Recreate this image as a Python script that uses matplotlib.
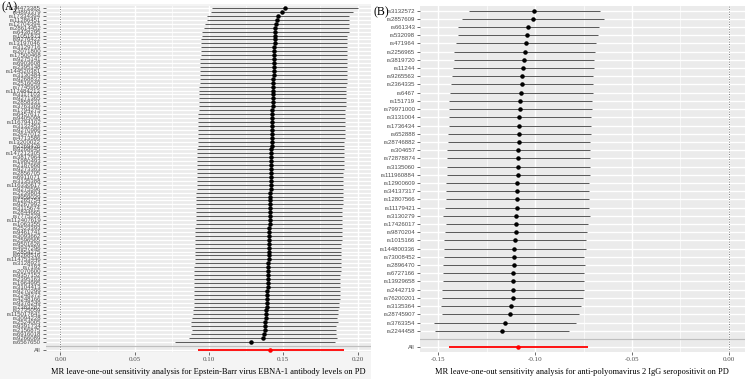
import numpy as np
import matplotlib.pyplot as plt
from matplotlib.patches import Rectangle

# ---- panel A data (Epstein-Barr virus EBNA-1), top row first ----
snp_a = ["rs74473385", "rs4893379", "rs17334394", "rs11286451", "rs12704394", "rs28614452", "rs6438295",
         "rs1051873", "rs9276422", "rs13197046", "rs3129716", "rs2071800", "rs17500468", "rs9275141",
         "rs6903608", "rs2395148", "rs144520381", "rs3130484", "rs9268832", "rs2516049", "rs7745906",
         "rs117484213", "rs3117103", "rs9271365", "rs2858331", "rs3763309", "rs1794275", "rs6457617",
         "rs9405098", "rs116794102", "rs3132453", "rs9270986", "rs2647012", "rs4713586", "rs13200022",
         "rs2269426", "rs9268645", "rs147212305", "rs3817964", "rs1980493", "rs2187668", "rs9273363",
         "rs2856705", "rs6911071", "rs3135388", "rs116330617", "rs9275596", "rs2239804", "rs4959039",
         "rs1265754", "rs9267992", "rs3115674", "rs2844665", "rs7775228", "rs112407619", "rs1063355",
         "rs2523393", "rs9461741", "rs3093662", "rs2596565", "rs9501626", "rs4947296", "rs2854275",
         "rs9268516", "rs114753446", "rs3128921", "rs7192", "rs2070600", "rs9357152", "rs2395163",
         "rs1964995", "rs3104413", "rs9270299", "rs2248372", "rs4248166", "rs9378249", "rs7383287",
         "rs2735059", "rs115017641", "rs3094228", "rs2524005", "rs9391734", "rs2156875", "rs6916018",
         "rs9266089", "rs6567650"]
b_a = [0.1510, 0.1489, 0.1464, 0.1460, 0.1453, 0.1446, 0.1445,
       0.1443, 0.1442, 0.1441, 0.1440, 0.1439, 0.1439, 0.1438, 0.1437, 0.1436, 0.1436, 0.1435, 0.1434,
       0.1433, 0.1432, 0.1431, 0.1431, 0.1430, 0.1429, 0.1428, 0.1427, 0.1427, 0.1426, 0.1425,
       0.1424, 0.1424, 0.1423, 0.1422, 0.1422, 0.1421, 0.1420, 0.1420, 0.1419, 0.1418, 0.1418, 0.1417,
       0.1416, 0.1416, 0.1415, 0.1414, 0.1414, 0.1413, 0.1412, 0.1412, 0.1411, 0.1410, 0.1410, 0.1409,
       0.1408, 0.1408, 0.1407, 0.1406, 0.1405, 0.1405, 0.1404, 0.1403, 0.1402, 0.1402, 0.1401, 0.1400,
       0.1399, 0.1398, 0.1397, 0.1396, 0.1395, 0.1394, 0.1393, 0.1392, 0.1391,
       0.1390, 0.1389, 0.1386, 0.1385, 0.1381, 0.1379, 0.1376, 0.1374, 0.1372, 0.1366, 0.1280]
lo_a = [0.1018, 0.1011, 0.0989, 0.0984, 0.0975, 0.0964, 0.0955,
        0.0951, 0.0948, 0.0946, 0.0944, 0.0944, 0.0943, 0.0941, 0.0941, 0.0940, 0.0939, 0.0938, 0.0937,
        0.0936, 0.0935, 0.0935, 0.0934, 0.0933, 0.0932, 0.0931, 0.0930, 0.0929, 0.0928, 0.0927,
        0.0926, 0.0926, 0.0925, 0.0924, 0.0924, 0.0923, 0.0922, 0.0922, 0.0921, 0.0920, 0.0920, 0.0919,
        0.0918, 0.0918, 0.0917, 0.0916, 0.0916, 0.0915, 0.0914, 0.0914, 0.0913, 0.0912, 0.0912, 0.0911,
        0.0910, 0.0910, 0.0909, 0.0908, 0.0907, 0.0907, 0.0906, 0.0905, 0.0905, 0.0904, 0.0903, 0.0903,
        0.0902, 0.0901, 0.0901, 0.0900, 0.0900, 0.0899, 0.0899, 0.0898, 0.0898,
        0.0897, 0.0897, 0.0893, 0.0889, 0.0887, 0.0879, 0.0882, 0.0885, 0.0882, 0.0868, 0.0768]
hi_a = [0.2003, 0.1969, 0.1942, 0.1942, 0.1940, 0.1940, 0.1944,
        0.1928, 0.1928, 0.1927, 0.1928, 0.1927, 0.1928, 0.1930, 0.1928, 0.1927, 0.1928, 0.1930, 0.1929,
        0.1926, 0.1925, 0.1925, 0.1923, 0.1921, 0.1921, 0.1920, 0.1917, 0.1918, 0.1916, 0.1915,
        0.1914, 0.1913, 0.1913, 0.1912, 0.1911, 0.1910, 0.1910, 0.1909, 0.1908, 0.1907, 0.1907, 0.1906,
        0.1905, 0.1904, 0.1904, 0.1903, 0.1902, 0.1901, 0.1900, 0.1900, 0.1899, 0.1898, 0.1897, 0.1897,
        0.1896, 0.1895, 0.1894, 0.1894, 0.1893, 0.1892, 0.1891, 0.1891, 0.1890, 0.1889, 0.1888, 0.1888,
        0.1887, 0.1886, 0.1885, 0.1884, 0.1884, 0.1883, 0.1882, 0.1881, 0.1880,
        0.1874, 0.1874, 0.1870, 0.1867, 0.1863, 0.1865, 0.1856, 0.1854, 0.1856, 0.1863, 0.1851]
all_a = (0.1412, 0.0923, 0.1906)  # b, lo, hi

# ---- panel B data (anti-polyomavirus 2 IgG), top row first ----
snp_b = ["rs3132572", "rs2857609", "rs661343", "rs532098", "rs471964", "rs2256965", "rs3819720",
         "rs11244", "rs9265563", "rs2364335", "rs6467", "rs151719", "rs79971000", "rs3131004",
         "rs1736434", "rs652888", "rs28746882", "rs304657", "rs72878874", "rs3135060", "rs111960884",
         "rs12900609", "rs34137317", "rs12807566", "rs11179421", "rs3130279", "rs17426017", "rs9870204",
         "rs1015166", "rs144800336", "rs73008452", "rs2896470", "rs6727166", "rs13929658", "rs2442719",
         "rs76200201", "rs3135364", "rs28745907", "rs3763354", "rs2244458"]
b_b = [-0.1004, -0.1012, -0.1035, -0.1040, -0.1048, -0.1055, -0.1060, -0.1062, -0.1066, -0.1069,
       -0.1071, -0.1076, -0.1078, -0.1081, -0.1081, -0.1083, -0.1086, -0.1088, -0.1088, -0.1090,
       -0.1090, -0.1092, -0.1093, -0.1093, -0.1095, -0.1097, -0.1097, -0.1098, -0.1104, -0.1107,
       -0.1109, -0.1109, -0.1112, -0.1114, -0.1114, -0.1117, -0.1126, -0.1128, -0.1154, -0.1171]
lo_b = [-0.1341, -0.1376, -0.1397, -0.1397, -0.1408, -0.1419, -0.1419, -0.1424, -0.1429, -0.1434,
        -0.1440, -0.1443, -0.1445, -0.1445, -0.1446, -0.1450, -0.1452, -0.1455, -0.1455, -0.1457,
        -0.1457, -0.1459, -0.1460, -0.1460, -0.1464, -0.1476, -0.1462, -0.1466, -0.1471, -0.1472,
        -0.1471, -0.1478, -0.1476, -0.1478, -0.1481, -0.1483, -0.1486, -0.1483, -0.1523, -0.1519]
hi_b = [-0.0664, -0.0645, -0.0669, -0.0674, -0.0686, -0.0690, -0.0697, -0.0697, -0.0702, -0.0702,
        -0.0702, -0.0707, -0.0707, -0.0712, -0.0712, -0.0714, -0.0716, -0.0718, -0.0718, -0.0719,
        -0.0719, -0.0721, -0.0721, -0.0723, -0.0723, -0.0716, -0.0728, -0.0731, -0.0736, -0.0738,
        -0.0747, -0.0742, -0.0747, -0.0750, -0.0750, -0.0755, -0.0764, -0.0771, -0.0788, -0.0826]
all_b = (-0.1088, -0.1443, -0.0728)

title_a = "MR leave-one-out sensitivity analysis for Epstein-Barr virus EBNA-1 antibody levels on PD"
title_b = "MR leave-one-out sensitivity analysis for anti-polyomavirus 2 IgG seropositivit on PD"

serif = "Liberation Serif"
tick_col = "#4D4D4D"


def loo_panel(ax, snps, b, lo, hi, tot, xticks, minor, title):
    n = len(snps)
    # ggplot-style rows: SNPs on top, blank row, then "All" at the bottom
    ys = np.arange(n + 2, 2, -1)
    ax.set_facecolor("#EBEBEB")
    for s in ax.spines.values():
        s.set_visible(False)
    for x in xticks:
        ax.axvline(x, color="white", lw=1.0, zorder=0)
    for x in minor:
        ax.axvline(x, color="white", lw=0.5, zorder=0)
    for y in list(ys) + [2, 1]:
        ax.axhline(y, color="white", lw=1.0, zorder=0)
    ax.axhline(2, color="#BEBEBE", lw=0.9, zorder=1)
    ax.axvline(0, color="#555555", lw=0.6, ls=(0, (1, 2)), zorder=1)
    ax.hlines(ys, lo, hi, color="#5c5c5c", lw=0.75, zorder=2)
    ax.scatter(b, ys, s=5, color="black", zorder=3)
    ax.hlines([1], [tot[1]], [tot[2]], color="red", lw=1.3, zorder=2)
    ax.scatter([tot[0]], [1], s=5, color="red", zorder=3)
    ax.set_ylim(0.4, n + 2.6)
    ax.set_yticks(list(ys) + [1])
    ax.set_yticklabels(list(snps) + ["All"], fontsize=4.3, color=tick_col, family="Liberation Sans")
    ax.set_xticks(xticks)
    ax.set_xticklabels(["%.2f" % x for x in xticks], fontsize=5, color=tick_col, family=serif)
    ax.tick_params(axis="both", length=2, width=0.5, color="#333333", pad=1.5)
    ax.set_xlabel(title, fontsize=6, family=serif, labelpad=4)


fig = plt.figure(figsize=(7.5, 3.79), dpi=100)
fig.patch.set_facecolor("white")
# light backdrop behind panel A
fig.patches.append(Rectangle((0, 0), 0.494, 0.99, transform=fig.transFigure,
                             facecolor="#F4F4F4", edgecolor="none", zorder=-5))

ax1 = fig.add_axes([0.061, 0.071, 0.433, 0.914])
loo_panel(ax1, snp_a, b_a, lo_a, hi_a, all_a, [0.0, 0.05, 0.10, 0.15, 0.20],
          [0.025, 0.075, 0.125, 0.175], title_a)
ax1.set_xlim(-0.0099, 0.2087)

ax2 = fig.add_axes([0.560, 0.071, 0.433, 0.914])
loo_panel(ax2, snp_b, b_b, lo_b, hi_b, all_b, [-0.15, -0.10, -0.05, 0.0],
          [-0.125, -0.075, -0.025], title_b)
ax2.set_xlim(-0.1595, 0.0083)

fig.text(0.002, 0.982, "(A)", fontsize=8.5, family=serif, va="center")
fig.text(0.498, 0.968, "(B)", fontsize=8.5, family=serif, va="center")

fig.savefig("out.png", dpi=100)
